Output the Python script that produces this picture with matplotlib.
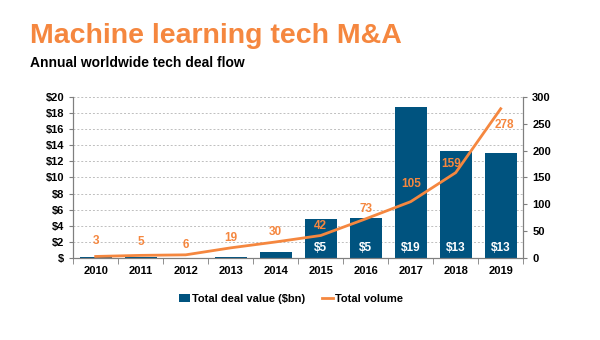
import matplotlib
matplotlib.use('Agg')
import matplotlib.pyplot as plt
import numpy as np

# ---- Data ----
years = ['2010', '2011', '2012', '2013', '2014', '2015', '2016', '2017', '2018', '2019']
deal_value = [0.1, 0.1, 0.05, 0.1, 0.7, 4.9, 5.0, 18.8, 13.3, 13.1]   # $bn
deal_labels = ['', '', '', '', '', '$5', '$5', '$19', '$13', '$13']
volume = [3, 5, 6, 19, 30, 42, 73, 105, 159, 278]

navy = '#00537F'
orange = '#F5873F'

plt.rcParams['font.family'] = ['Liberation Sans', 'DejaVu Sans']
plt.rcParams['font.weight'] = 'bold'

fig = plt.figure(figsize=(6, 3.4), dpi=100)
ax = fig.add_axes([0.122, 0.241, 0.75, 0.474])
ax2 = ax.twinx()

x = np.arange(len(years))
ax.bar(x, deal_value, width=0.72, color=navy, label='Total deal value ($bn)', zorder=2)
for xi, lab in zip(x, deal_labels):
    if lab:
        ax.text(xi, 0.5, lab, color='white', ha='center', va='bottom',
                fontsize=8.5, fontweight='bold', zorder=3)

ax2.plot(x, volume, color=orange, linewidth=2, label='Total volume', zorder=4)
# label offsets (points) above/below each point
offsets = [11, 9.5, 7, 7, 7, 7, 7, 12.5, 6.5, -11.5]
xshift = [0, 0, 0, 0, 0, 0, 0, 0, -3, 3]
for xi, v, dy, dx in zip(x, volume, offsets, xshift):
    ax2.annotate(str(v), (xi, v), xytext=(dx, dy), textcoords='offset points',
                 ha='center', va='center', color=orange, fontsize=8.5, fontweight='bold')

ax.set_xlim(-0.5, len(years) - 0.5)
ax.set_ylim(0, 20)
ax2.set_ylim(0, 300)
ax.set_yticks(np.arange(0, 21, 2))
ax.set_yticklabels(['$'] + [f'${v}' for v in range(2, 21, 2)])
ax2.set_yticks(np.arange(0, 301, 50))
ax.set_xticks(x)
ax.set_xticklabels(years)
ax.set_xticks(np.arange(-0.5, len(years), 1), minor=True)
ax.tick_params(axis='x', which='major', length=0, pad=6, labelsize=8)
ax.tick_params(axis='x', which='minor', length=4, color='#7f7f7f', direction='out')
ax.tick_params(axis='y', labelsize=8, length=3, color='#7f7f7f')
ax2.tick_params(axis='y', labelsize=8, length=3, color='#7f7f7f')

ax.yaxis.grid(True, linestyle=(0, (2, 2)), color='#bfbfbf', linewidth=0.7, zorder=0)
ax.set_axisbelow(True)
for a in (ax, ax2):
    a.spines['top'].set_visible(False)
    for s in ('left', 'right', 'bottom'):
        a.spines[s].set_color('#7f7f7f')
        a.spines[s].set_linewidth(0.8)

h1, l1 = ax.get_legend_handles_labels()
h2, l2 = ax2.get_legend_handles_labels()
fig.legend(h1 + h2, l1 + l2, loc='center', bbox_to_anchor=(0.485, 0.122), ncol=2,
           frameon=False, fontsize=8, handlelength=1.0, handletextpad=0.15,
           columnspacing=1.5)

fig.text(0.05, 0.895, 'Machine learning tech M&A', color=orange, fontsize=20.5,
         fontweight='bold', va='center')
fig.text(0.05, 0.815, 'Annual worldwide tech deal flow', color='black', fontsize=10,
         fontweight='bold', va='center')

fig.savefig('out.png', dpi=100)
